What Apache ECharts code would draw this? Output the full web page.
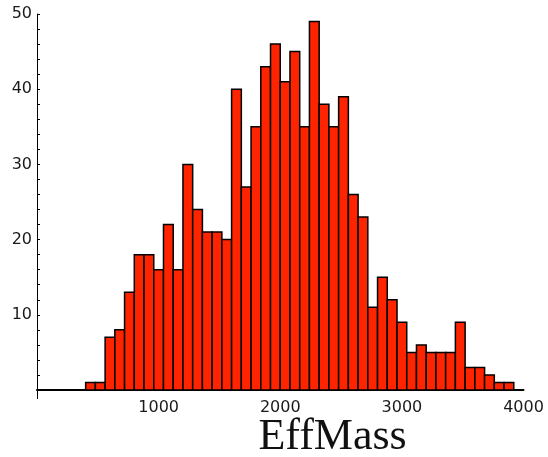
<!DOCTYPE html>
<html>
<head>
<meta charset="utf-8">
<script src="https://cdn.jsdelivr.net/npm/echarts@6/dist/echarts.min.js"></script>
<style>
  html, body { margin: 0; padding: 0; background: #fff; }
  #chart { width: 548px; height: 457px; }
</style>
</head>
<body>
<div id="chart"></div>
<script>
// Histogram of EffMass: 80-wide bins, first filled bin starts at 400
const binStart = 400;
const binWidth = 80;
const counts = [1, 1, 7, 8, 13, 18, 18, 16, 22, 16, 30, 24, 21, 21, 20, 40, 27, 35, 43, 46,
                41, 45, 35, 49, 38, 35, 39, 26, 23, 11, 15, 12, 9, 5, 6, 5, 5, 5, 9, 3,
                3, 2, 1, 1];
const xTicks = [1000, 2000, 3000, 4000];
const yTicks = [10, 20, 30, 40, 50];
const axisTitle = 'EffMass';

const bins = counts.map((c, i) => [binStart + i * binWidth, binStart + (i + 1) * binWidth, c]);

const chart = echarts.init(document.getElementById('chart'), null, { renderer: 'canvas' });

const labelFont = { fontFamily: 'DejaVu Sans', fontSize: 16, color: '#1a1a1a' };

chart.setOption({
  animation: false,
  grid: { left: 37, right: 24.5, top: 14, bottom: 67 },
  xAxis: {
    type: 'value', min: 0, max: 4000, interval: 1000,
    axisLine: { show: true, onZero: false, lineStyle: { color: '#000', width: 2 } },
    axisTick: { show: false },
    splitLine: { show: false },
    axisLabel: Object.assign({
      margin: 10,
      formatter: v => xTicks.includes(v) ? String(v) : ''
    }, labelFont)
  },
  yAxis: {
    type: 'value', min: 0, max: 50, interval: 10,
    axisLine: { show: true, lineStyle: { color: '#000', width: 1 } },
    axisTick: { show: true, inside: true, length: 3, lineStyle: { color: '#000' } },
    minorTick: { show: true, splitNumber: 5, length: 3, lineStyle: { color: '#000' } },
    splitLine: { show: false },
    axisLabel: Object.assign({
      margin: 5,
      formatter: v => yTicks.includes(v) ? String(v) : ''
    }, labelFont)
  },
  series: [{
    type: 'custom',
    data: bins,
    encode: { x: [0, 1], y: 2 },
    renderItem: function (params, api) {
      const p0 = api.coord([api.value(0), api.value(2)]);
      const p1 = api.coord([api.value(1), 0]);
      return {
        type: 'rect',
        shape: { x: p0[0], y: p0[1], width: p1[0] - p0[0], height: p1[1] - p0[1] },
        style: { fill: '#ff2400', stroke: '#000', lineWidth: 1.5 }
      };
    }
  }]
});

// Extend the vertical axis a little below the baseline, and place the axis title
const origin = chart.convertToPixel({ gridIndex: 0 }, [0, 0]);
const titleX = chart.convertToPixel({ xAxisIndex: 0 }, 2430);
chart.setOption({
  graphic: [
    {
      type: 'line',
      shape: { x1: origin[0] + 0.5, y1: origin[1], x2: origin[0] + 0.5, y2: origin[1] + 9 },
      style: { stroke: '#000', lineWidth: 1 }
    },
    {
      type: 'text',
      x: titleX, y: 437,
      style: {
        text: axisTitle,
        font: '44px "Liberation Serif"',
        fill: '#111',
        textAlign: 'center',
        textVerticalAlign: 'middle'
      }
    }
  ]
});
</script>
</body>
</html>
